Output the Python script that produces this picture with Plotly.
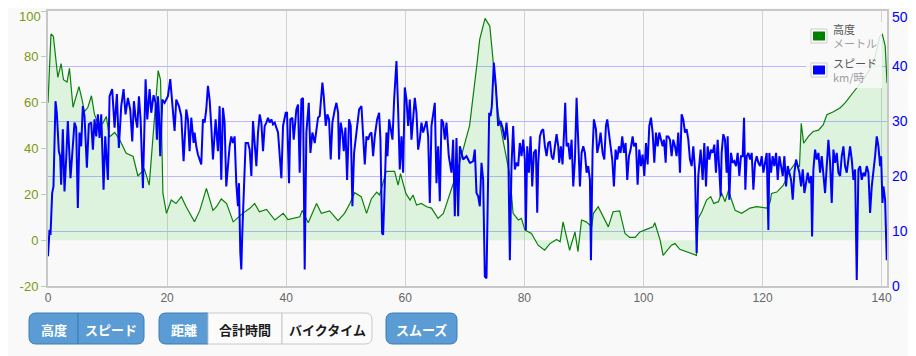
import plotly.graph_objects as go

# ---------------- data ----------------
alt_km = [0.0, 0.5, 0.9, 1.4, 1.65, 2.2, 2.6, 3.2, 3.6, 4.2, 4.7, 5.2, 5.75, 6.1, 6.7, 7.3, 7.8, 8.5, 9.2, 9.8,
          10.3, 11.2, 12.0, 13.1, 14.3, 15.1, 16.2, 17.0, 17.6, 18.5, 18.9, 19.3, 19.9, 20.7, 21.5, 22.4, 23.2, 24.6,
          25.5, 26.6, 27.7, 28.3, 29.1, 30.0, 31.1, 31.9, 32.7, 33.9, 34.7, 35.5, 36.7, 38.1, 39.5, 40.3, 42.3, 42.7,
          43.7, 45.1, 45.9, 47.3, 48.7, 49.8, 50.7, 51.5, 52.6, 53.5, 54.3, 55.2, 55.7, 56.8, 58.2, 58.8, 59.2, 60.1,
          60.8, 61.3, 61.9, 62.7, 63.6, 64.4, 65.5, 66.4, 67.5, 68.6, 69.7, 70.8, 72.0, 72.5, 73.4, 74.2, 74.8, 75.6,
          76.4, 77.6, 78.1, 79.0, 79.5, 80.1, 81.2, 82.3, 83.4, 84.3, 85.4, 86.0, 86.5, 87.6, 88.5, 89.0, 89.6, 90.4,
          91.3, 91.6, 92.4, 93.3, 94.1, 94.9, 96.0, 96.9, 97.7, 98.6, 99.4, 100.5, 101.6, 101.9, 102.8, 103.3, 104.7,
          105.3, 106.1, 108.9, 109.2, 109.8, 110.6, 111.3, 111.8, 112.6, 113.1, 113.7, 114.3, 114.8, 115.4, 116.5,
          117.9, 119.0, 120.7, 121.3, 121.5, 122.4, 123.5, 124.5, 125.5, 126.2, 126.5, 126.9, 127.7, 128.5, 129.4,
          130.2, 130.8, 131.9, 133.0, 133.9, 135.0, 135.8, 136.9, 138.0, 138.9, 139.7, 140.1, 140.6, 140.9]
alt_m = [60, 90, 89, 76, 71, 77, 70, 69, 75, 58, 63, 67, 61, 56, 58, 63, 55, 50, 51, 54,
         45, 47, 44, 38, 36.5, 28, 31, 24, 44, 74, 70, 20.4, 11.7, 17.5, 16, 19, 14.6, 8,
         13, 22.6, 13, 14.6, 18, 16, 8, 10, 11.7, 13.9, 16, 12.4, 13.4, 8.8, 11.7, 9, 10.2, 13,
         7.6, 16, 11.7, 12.8, 8.5, 11.7, 16, 20.7, 19, 11.7, 18, 21, 19.7, 30, 30, 24, 29, 20.4,
         17.5, 19.7, 15.3, 16, 14.6, 14, 9.5, 11.7, 20.4, 29, 39.4, 50, 76, 87.6, 96.8, 93.4, 77, 55.5,
         43.8, 27.7, 11.7, 8.8, 9.5, 4.4, 2.9, -2.2, -4.4, -1.5, 0.3, -0.7, 8, -4.4, 3.6, -5, 8.8, 8,
         5.8, 11.7, 14.6, 10.2, 5.8, 12.4, 12.8, 2.9, 1.2, 1.2, 3.6, 4.7, 5.8, 7.6, 0, -6.6, -2.2,
         -1.5, -4, -6.6, 9.5, 12.4, 17.5, 19, 16, 16.8, 20.7, 16.8, 21.9, 17.5, 13, 11.7,
         14, 14.6, 14, 16.8, 20.4, 21, 24, 30, 33.6, 32, 51, 42.3, 45.3, 47.4, 48,
         50.4, 54.7, 56, 57.7, 60, 64, 66.4, 70, 74.5, 80, 89, 90, 84.7, 68.6]

spd_km = [0.0, 0.25, 0.42, 0.70, 0.92, 1.26, 1.48, 1.82, 2.04, 2.21, 2.49, 2.77, 3.05, 3.33, 3.78, 4.06, 4.45, 4.73,
          5.01, 5.29, 5.57, 5.85, 6.13, 6.53, 6.86, 7.25, 7.54, 7.82, 8.10, 8.38, 8.66, 8.94, 9.33, 9.61, 10.06, 10.34,
          10.78, 11.18, 11.57, 11.90, 12.30, 12.69, 13.02, 13.42, 13.81, 14.15, 14.43, 14.71, 14.99, 15.27, 15.55,
          15.94, 16.39, 16.67, 17.06, 17.34, 17.73, 18.07, 18.29, 18.46, 18.63, 18.85, 19.19, 19.58, 19.86, 20.14,
          20.53, 20.87, 21.26, 21.54, 21.99, 22.38, 22.77, 23.22, 23.50, 23.78, 24.06, 24.45, 24.62, 24.90, 25.18,
          25.74, 26.02, 26.30, 26.58, 26.86, 27.14, 27.42, 27.70, 28.15, 28.54, 28.82, 29.10, 29.38, 29.66, 29.94,
          30.50, 30.78, 31.06, 31.34, 31.62, 31.90, 32.07, 32.30, 32.46, 32.63, 32.86, 33.19, 33.59, 33.87, 34.15,
          34.43, 34.99, 35.27, 35.55, 35.83, 36.11, 36.39, 36.67, 36.95, 37.23, 37.51, 37.79, 38.07, 38.35, 38.63,
          39.19, 39.47, 39.92, 40.14, 40.48, 40.70, 41.04, 41.26, 41.71, 41.99, 42.27, 42.55, 42.83, 43.11, 43.39,
          43.79, 44.07, 44.40, 44.79, 45.35, 45.63, 46.08, 46.31, 46.64, 46.92, 47.20, 47.48, 47.76, 48.16, 48.44,
          48.72, 48.88, 49.16, 49.44, 49.67, 49.95, 50.23, 50.56, 50.84, 51.12, 51.40, 51.80, 52.25, 52.64, 52.92,
          53.20, 53.48, 53.76, 54.04, 54.32, 54.60, 54.88, 55.27, 55.61, 55.83, 56.11, 56.28, 56.56, 56.84, 57.01,
          57.29, 57.57, 57.85, 58.13, 58.52, 58.80, 59.08, 59.36, 59.64, 59.92, 60.20, 60.48, 60.76, 61.04, 61.32,
          61.60, 61.88, 62.16, 62.44, 62.72, 63.00, 63.28, 63.56, 63.84, 64.12, 64.40, 64.68, 64.96, 65.24, 65.52,
          65.80, 66.08, 66.36, 66.64, 66.92, 67.31, 67.76, 68.04, 68.32, 68.60, 68.88, 69.16, 69.72, 70.28, 70.84,
          70.95, 71.40, 71.68, 71.96, 72.24, 72.52, 72.80, 73.08, 73.36, 73.64, 73.92, 74.09, 74.31, 74.54, 74.87,
          75.21, 75.60, 75.99, 76.33, 76.72, 77.00, 77.28, 77.56, 77.84, 78.12, 78.40, 78.68, 78.96, 79.24, 79.52,
          79.80, 80.08, 80.25, 80.48, 80.76, 81.04, 81.32, 81.60, 81.93, 82.16, 82.33, 82.61, 82.89, 83.17, 83.45,
          83.73, 84.01, 84.29, 84.57, 84.85, 85.13, 85.41, 85.69, 85.85, 86.13, 86.41, 86.69, 86.86, 87.09, 87.37,
          87.65, 87.93, 88.21, 88.49, 88.77, 89.05, 89.33, 89.61, 89.89, 90.17, 90.45, 90.73, 91.01, 91.18, 91.46,
          91.68, 92.02, 92.24, 92.58, 92.80, 93.14, 93.42, 93.70, 93.92, 94.20, 94.48, 94.76, 95.04, 95.32, 95.60,
          95.88, 96.16, 96.44, 96.72, 97.00, 97.28, 97.56, 97.84, 98.18, 98.40, 98.74, 99.02, 99.30, 99.58, 99.86,
          100.14, 100.42, 100.70, 100.98, 101.26, 101.54, 101.82, 102.10, 102.38, 102.66, 102.94, 103.22, 103.45,
          103.73, 103.89, 104.17, 104.45, 104.73, 105.01, 105.29, 105.57, 105.85, 106.13, 106.41, 106.69, 106.97,
          107.25, 107.53, 107.81, 108.09, 108.37, 108.65, 108.93, 109.21, 109.60, 109.94, 110.22, 110.50, 110.78,
          111.06, 111.34, 111.62, 111.90, 112.18, 112.46, 112.74, 112.97, 113.13, 113.41, 113.69, 113.97, 114.14,
          114.42, 114.70, 114.98, 115.26, 115.54, 115.82, 116.10, 116.38, 116.66, 116.89, 117.11, 117.34, 117.62,
          117.90, 118.18, 118.46, 118.74, 119.02, 119.30, 119.58, 119.86, 120.14, 120.42, 120.70, 120.98, 121.14,
          121.42, 121.70, 121.98, 122.27, 122.55, 122.83, 123.11, 123.39, 123.67, 123.95, 124.23, 124.51, 124.79,
          125.07, 125.35, 125.63, 125.91, 126.19, 126.47, 126.75, 127.03, 127.31, 127.59, 127.87, 128.15, 128.32,
          128.54, 128.82, 129.10, 129.38, 129.66, 129.94, 130.22, 130.50, 130.78, 131.06, 131.34, 131.62, 131.90,
          132.18, 132.46, 132.74, 133.02, 133.30, 133.58, 133.86, 134.14, 134.42, 134.70, 134.98, 135.26, 135.54,
          135.82, 136.10, 136.38, 136.66, 136.94, 137.22, 137.50, 137.78, 138.06, 138.34, 138.62, 138.90, 139.18,
          139.46, 139.74, 139.91, 140.14, 140.30, 140.58, 140.86]
spd_kmh = [5.4, 10.2, 9.3, 16.9, 18.1, 33.6, 31.5, 24.5, 23.6, 18.4, 28.5, 17.2, 23.0, 30.0, 19.6, 24.8, 29.7, 28.8,
           14.2, 27.9, 25.4, 32.7, 30.9, 21.5, 29.4, 29.7, 24.8, 30.3, 27.2, 31.2, 26.9, 31.2, 17.5, 27.2, 19.3, 34.5,
           35.8, 28.8, 34.9, 25.1, 32.7, 35.8, 31.2, 34.2, 32.1, 26.3, 33.6, 30.6, 28.8, 34.5, 30.3,
           17.8, 37.6, 30.3, 35.8, 31.5, 34.7, 33.3, 26.6, 34.5, 31.5, 23.6, 33.9, 33.3, 33.9, 34.5,
           37.6, 33.3, 28.2, 33.9, 32.7, 30.9, 22.7, 32.1, 30.3, 24.5, 30.6, 26.0, 27.9, 25.4, 23.9,
           22.1, 30.3, 29.7, 32.1, 36.4, 33.9, 29.1, 23.0, 30.3, 24.5, 32.7, 19.3, 32.4, 29.7, 18.1,
           25.4, 27.2, 26.0, 27.2, 18.7, 14.5, 18.7, 6.0, 3.0, 9.6, 15.7, 26.0, 26.0, 24.8, 20.0,
           30.0, 21.8, 27.9, 31.2, 29.7, 24.5, 29.1, 29.7, 30.6, 29.7, 30.3, 29.4, 29.7, 28.8, 27.9,
           19.6, 29.1, 31.5, 31.5, 18.7, 30.3, 30.6, 26.6, 32.1, 33.0, 20.6, 33.9, 34.2, 3.0, 27.9,
           33.3, 24.2, 27.9, 26.0, 30.6, 30.9, 37.0, 34.5, 29.1, 31.2, 30.3, 23.0, 29.7, 32.1, 33.3,
           31.5, 23.0, 29.7, 27.9, 24.5, 28.8, 19.3, 30.3, 29.1, 14.5, 24.2, 27.9, 32.1, 32.7, 27.9,
           22.1, 27.2, 26.6, 27.6, 27.9, 23.6, 27.2, 30.3, 31.5, 26.6, 9.6, 9.3, 16.9, 27.9, 23.6,
           30.3, 28.5, 26.6, 33.9, 40.9, 32.1, 21.2, 27.2, 20.6, 36.1, 33.9, 29.1, 33.9, 26.6, 31.2,
           34.2, 31.5, 24.8, 26.6, 29.7, 27.9, 29.1, 30.0, 27.2, 15.1, 29.1, 31.2, 33.3, 18.7, 25.4,
           15.4, 30.3, 29.7, 26.6, 29.7, 23.6, 20.6, 26.6, 12.7, 26.9, 12.7, 25.4, 23.0, 23.6, 22.4,
           22.4, 22.7, 24.8, 16.9, 16.3, 14.5, 22.4, 19.3, 1.7, 1.4, 23.6, 31.5, 30.9, 32.7, 40.6,
           36.4, 29.1, 30.0, 28.8, 26.6, 29.7, 26.0, 4.7, 21.8, 29.1, 21.2, 22.4, 21.8, 26.0, 23.6,
           26.6, 23.0, 10.2, 25.4, 20.6, 27.2, 18.1, 24.2, 24.8, 13.3, 22.4, 27.2, 28.2, 28.5, 25.4,
           23.6, 26.0, 26.3, 23.6, 23.0, 25.4, 27.6, 25.4, 22.4, 25.4, 22.1, 28.5, 33.3, 25.4, 26.0,
           23.0, 26.6, 18.1, 23.0, 34.2, 24.8, 18.1, 24.2, 25.4, 24.2, 20.6, 21.8, 19.3, 4.7, 24.8,
           30.3, 28.5, 24.2, 26.0, 27.9, 24.2, 23.0, 29.1, 30.3, 27.2, 25.4, 23.0, 18.1, 24.8, 23.0,
           25.4, 24.2, 27.2, 24.2, 26.0, 19.3, 23.6, 24.8, 27.2, 25.4, 26.0, 18.4, 24.8, 21.8, 23.9,
           20.0, 26.0, 22.1, 29.1, 30.6, 27.9, 22.4, 27.9, 25.4, 27.9, 26.6, 25.4, 26.6,
           22.4, 27.2, 27.2, 26.6, 23.6, 26.6, 25.4, 23.6, 27.9, 20.6, 31.2, 30.3, 27.9,
           28.5, 26.6, 23.0, 21.8, 25.4, 21.2, 6.0, 20.0, 24.8, 19.3, 26.0, 18.1, 25.4,
           23.0, 24.8, 24.2, 25.7, 20.6, 26.6, 20.0, 16.3, 24.2, 27.6, 26.6, 20.6, 27.2,
           15.7, 24.2, 22.4, 22.7, 21.8, 24.2, 20.0, 23.6, 23.6, 30.6, 17.5, 23.6, 24.2,
           23.0, 24.2, 17.5, 22.4, 23.6, 22.4, 21.8, 23.6, 20.6, 22.4, 24.2, 10.2, 24.2,
           20.6, 23.6, 21.8, 24.2, 19.3, 23.6, 21.8, 20.0, 23.6, 18.1, 21.8, 20.6, 19.3,
           15.7, 20.6, 23.0, 21.8, 20.6, 18.1, 21.2, 16.9, 19.3, 20.6, 18.7, 20.0, 9.0,
           21.2, 24.8, 23.0, 24.2, 20.6, 23.6, 20.6, 16.9, 21.8, 26.6, 22.4, 15.1, 24.8,
           22.4, 24.2, 20.6, 20.0, 23.6, 25.4, 21.8, 20.6, 23.6, 25.4, 23.0, 19.3, 21.2,
           1.1, 21.2, 21.8, 19.3, 20.6, 20.0, 21.8, 20.6, 13.3, 18.1, 20.6, 23.6, 27.2,
           25.4, 21.8, 23.6, 15.1, 18.1, 15.7, 4.7]

x_ticks = [0, 20, 40, 60, 80, 100, 120, 140]
alt_ticks = [-20, 0, 20, 40, 60, 80, 100]
alt_labels = ["-20", "0", "20", "40", "60", "80", "100"]
spd_ticks = [0, 10, 20, 30, 40, 50]
spd_labels = ["0", "10", "20", "30", "40", "50"]
legend_names = ["高度", "スピード"]
legend_units = ["メートル", "km/時"]
button_groups = [["高度", "スピード"], ["距離", "合計時間", "バイクタイム"], ["スムーズ"]]

# ---------------- layout helpers ----------------
# The page body has an 8px default margin, so the figure is drawn 8px right/down
# of the window origin; the window-pixel layout below compensates for that.
W, H = 916, 356
OFF = 8
L, R, T, B = 48, 887, 11, 286          # plot area in window pixels
PW, PH = R - L, B - T


def px(x):
    return (x - L) / PW


def py(y):
    return (B - y) / PH


def rpath(x0, y0, x1, y1, rl, rr):
    pts = []
    pts.append(f"M{px(x0 + rl)},{py(y0)}")
    pts.append(f"L{px(x1 - rr)},{py(y0)}")
    pts.append(f"Q{px(x1)},{py(y0)} {px(x1)},{py(y0 + rr)}")
    pts.append(f"L{px(x1)},{py(y1 - rr)}")
    pts.append(f"Q{px(x1)},{py(y1)} {px(x1 - rr)},{py(y1)}")
    pts.append(f"L{px(x0 + rl)},{py(y1)}")
    pts.append(f"Q{px(x0)},{py(y1)} {px(x0)},{py(y1 - rl)}")
    pts.append(f"L{px(x0)},{py(y0 + rl)}")
    pts.append(f"Q{px(x0)},{py(y0)} {px(x0 + rl)},{py(y0)}")
    return " ".join(pts) + " Z"


fig = go.Figure()
fig.add_trace(go.Scatter(x=alt_km, y=alt_m, mode="lines", fill="tozeroy",
                         line=dict(color="#0a7f0a", width=1.2), fillcolor="rgba(40,210,40,0.13)",
                         name=legend_names[0], showlegend=False, yaxis="y"))
fig.add_trace(go.Scatter(x=spd_km, y=spd_kmh, mode="lines",
                         line=dict(color="#0000ff", width=2), name=legend_names[1],
                         showlegend=False, yaxis="y2"))

shapes = []
annotations = []

# legend box
shapes.append(dict(type="path", xref="paper", yref="paper", layer="above",
                   path=rpath(806, 22, 882, 88, 6, 0),
                   fillcolor="rgba(249,249,249,0.86)", line=dict(width=0)))
leg_colors = ["#008000", "#0000ff"]
for i, (nm, un, col) in enumerate(zip(legend_names, legend_units, leg_colors)):
    yc = 36 + i * 34
    shapes.append(dict(type="rect", xref="paper", yref="paper", layer="above",
                       x0=px(811), x1=px(827), y0=py(yc - 7), y1=py(yc + 7),
                       fillcolor="#ffffff", line=dict(color="#cccccc", width=1)))
    shapes.append(dict(type="rect", xref="paper", yref="paper", layer="above",
                       x0=px(813), x1=px(825), y0=py(yc - 4.5), y1=py(yc + 4.5),
                       fillcolor=col, line=dict(width=0)))
    annotations.append(dict(text=f"{nm}<br><span style='color:#9c9c9c'>{un}</span>",
                            xref="paper", yref="paper", x=px(831), y=py(yc),
                            xanchor="left", yanchor="middle", align="left", showarrow=False,
                            font=dict(family="Noto Sans CJK JP", size=11, color="#545454")))

# buttons
BY0, BY1 = 313, 344
groups_px = [[29, 78, 144], [159, 208, 282, 372], [386, 457]]
active = [[True, True], [True, False, False], [True]]
for labels, xs, act in zip(button_groups, groups_px, active):
    n = len(labels)
    for j in range(n):
        x0, x1 = xs[j], xs[j + 1]
        rl = 7 if j == 0 else 0
        rr = 7 if j == n - 1 else 0
        if act[j]:
            fc, lc, tc = "#5b9cd4", "#3b7cb6", "#ffffff"
        else:
            fc, lc, tc = "#fbfbfb", "#c8c8c8", "#1a1a1a"
        shapes.append(dict(type="path", xref="paper", yref="paper", layer="above",
                           path=rpath(x0, BY0, x1, BY1, rl, rr), fillcolor=fc,
                           line=dict(color=lc, width=1)))
        annotations.append(dict(text=f"<b>{labels[j]}</b>", xref="paper", yref="paper",
                                x=px((x0 + x1) / 2), y=py((BY0 + BY1) / 2 + 1),
                                xanchor="center", yanchor="middle", showarrow=False,
                                font=dict(family="Noto Sans CJK JP", size=13, color=tc)))

# top tick labels would be clipped by the page edge; draw them just inside it
alt_font = dict(family="Liberation Sans", size=13, color="#7a9a10")
spd_font = dict(family="Liberation Sans", size=14, color="#0000ff")
annotations.append(dict(text=alt_labels[-1], xref="paper", yref="paper", x=px(42), y=py(OFF),
                        xanchor="right", yanchor="top", showarrow=False, borderpad=0, font=alt_font))
annotations.append(dict(text=spd_labels[-1], xref="paper", yref="paper", x=px(891), y=py(OFF),
                        xanchor="left", yanchor="top", showarrow=False, borderpad=0, font=spd_font))
alt_ticktext = alt_labels[:-1] + [""]
spd_ticktext = spd_labels[:-1] + [""]

fig.update_layout(
    width=W, height=H,
    margin=dict(l=L - OFF, r=W - (R - OFF), t=T - OFF, b=H - (B - OFF), pad=0, autoexpand=False),
    paper_bgcolor="#f9f9f9", plot_bgcolor="#f9f9f9",
    showlegend=False,
    xaxis=dict(range=[0, 140.9], tickvals=x_ticks, showgrid=True, gridcolor="#d2d2d2", gridwidth=1,
               zeroline=False, showline=True, linecolor="#c8c8c8", linewidth=2, mirror=True,
               ticks="", automargin=False, ticklabeloverflow="allow",
               tickfont=dict(family="Liberation Sans", size=12, color="#666666")),
    yaxis=dict(range=[-20, 100], tickvals=alt_ticks, ticktext=alt_ticktext, showgrid=False,
               zeroline=False, showline=True, linecolor="#c8c8c8", linewidth=2, mirror=True,
               ticks="outside", ticklen=5, tickcolor="#a8d8a8", automargin=False,
               ticklabeloverflow="allow", tickfont=alt_font),
    yaxis2=dict(range=[0, 50], tickvals=spd_ticks, ticktext=spd_ticktext, overlaying="y", side="right",
                showgrid=True, gridcolor="#b8b8ff", gridwidth=1, zeroline=False,
                ticks="", ticklabelstandoff=4, automargin=False, ticklabeloverflow="allow",
                tickfont=spd_font),
    shapes=shapes, annotations=annotations,
)

fig.write_html("out.html")
